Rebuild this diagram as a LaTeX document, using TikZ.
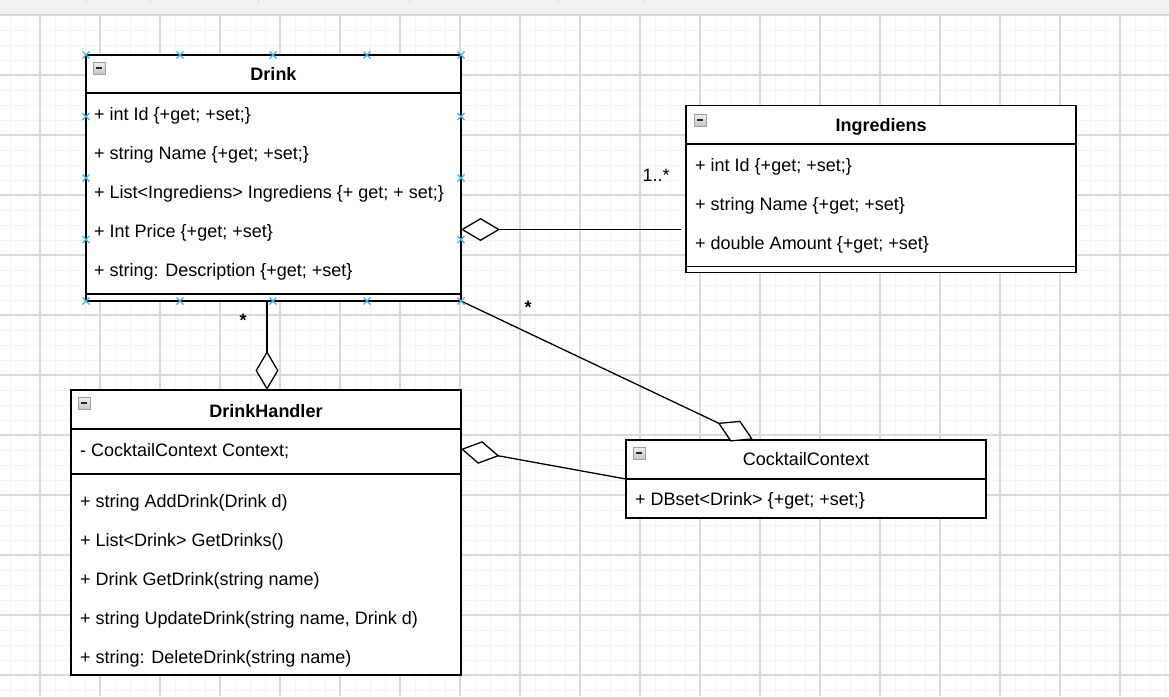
\documentclass[tikz,border=0pt]{standalone}
\usepackage{fontspec}
\setmainfont{Liberation Sans}
\usetikzlibrary{arrows.meta}
\definecolor{handle}{RGB}{58,180,240}
\definecolor{gmajor}{RGB}{218,218,218}
\definecolor{gminor}{RGB}{244,244,244}
\definecolor{topbar}{RGB}{241,242,244}
\newcommand\ufont{\fontsize{18}{20}\selectfont}
\tikzset{
  classbox/.style={draw=black, line width=1.3pt, fill=white, inner sep=0pt, rectangle},
  sepline/.style={draw=black, line width=1.3pt},
  row/.style={anchor=base west, inner sep=0pt, font=\ufont, text=black},
  ctitle/.style={anchor=base, inner sep=0pt, font=\ufont\bfseries, text=black},
  ntitle/.style={anchor=base, inner sep=0pt, font=\ufont, text=black},
  mult/.style={anchor=base, inner sep=0pt, font=\ufont, text=black},
  agg/.style={draw=black, line width=1.3pt, -{Diamond[length=39pt,width=23pt,fill=white]}},
  iconbox/.style={draw=gray!75, line width=0.8pt, top color=gray!12, bottom color=gray!45},
  iconbar/.style={draw=black!85, line width=1.6pt},
  hmark/.style={draw=handle, line width=1.3pt},
  minorline/.style={draw=gminor, line width=1pt},
  majorline/.style={draw=gmajor, line width=1.3pt},
}
\begin{document}
\begin{tikzpicture}[x=1pt,y=-1pt]
\useasboundingbox (0,0) rectangle (1169,696);
\fill[white] (0,0) rectangle (1169,696);
% grid
\foreach \x in {10,25,...,1165} \draw[minorline] (\x,14) -- (\x,696);
\foreach \y in {15,30,...,690} \draw[minorline] (0,\y) -- (1169,\y);
\foreach \x in {40,100,...,1160} \draw[majorline] (\x,14) -- (\x,696);
\foreach \y in {15,75,...,690} \draw[majorline] (0,\y) -- (1169,\y);
% top bar
\fill[topbar] (0,0) rectangle (1169,14);
\draw[draw=black!18, line width=1pt] (0,14) -- (1169,14);
\foreach \x in {86,150,258,409,558,643} \draw[draw=black!12, line width=0.8pt] (\x,0) -- (\x,4);

% ---------- Drink ----------
\node[classbox, minimum width=375pt, minimum height=246pt] (drink) at (273.5,178) {};
\draw[sepline] (86,93) -- (461,93);
\draw[sepline] (86,294) -- (461,294);
\node[ctitle] (drinkT) at (273.5,80.7) {Drink};
\node[row] (d1) at (94,120) {+ int Id \{+get; +set;\}};
\node[row] (d2) at (94,159) {+ string Name \{+get; +set;\}};
\node[row] (d3) at (94,198) {+ List<Ingrediens> Ingrediens \{+ get; + set;\}};
\node[row] (d4) at (94,237) {+ Int Price \{+get; +set\}};
\node[row] (d5) at (94,276) {+ string: Description \{+get; +set\}};

% ---------- Ingrediens ----------
\node[classbox, minimum width=390pt, minimum height=167pt] (ingr) at (881,189.2) {};
\draw[sepline] (686,144) -- (1076,144);
\draw[sepline] (686,266.5) -- (1076,266.5);
\node[ctitle] (ingrT) at (881,131.7) {Ingrediens};
\node[row] (i1) at (695,171.5) {+ int Id \{+get; +set;\}};
\node[row] (i2) at (695,210.5) {+ string Name \{+get; +set\}};
\node[row] (i3) at (695,249.5) {+ double Amount \{+get; +set\}};

% ---------- DrinkHandler ----------
\node[classbox, minimum width=390pt, minimum height=285pt] (dh) at (266,532.5) {};
\draw[sepline] (71,429) -- (461,429);
\draw[sepline] (71,474) -- (461,474);
\node[ctitle] (dhT) at (266,417.3) {DrinkHandler};
\node[row] (h0) at (80,456) {- CocktailContext Context;};
\node[row] (h1) at (80,507) {+ string AddDrink(Drink d)};
\node[row] (h2) at (80,546) {+ List<Drink> GetDrinks()};
\node[row] (h3) at (80,585) {+ Drink GetDrink(string name)};
\node[row] (h4) at (80,624) {+ string UpdateDrink(string name, Drink d)};
\node[row] (h5) at (80,663) {+ string: DeleteDrink(string name)};

% ---------- CocktailContext ----------
\node[classbox, minimum width=360pt, minimum height=78pt] (cc) at (806,479) {};
\draw[sepline] (626,479) -- (986,479);
\node[ntitle] (ccT) at (806,465) {CocktailContext};
\node[row] (c1) at (635,505) {+ DBset<Drink> \{+get; +set;\}};

% minus icons
\foreach \px/\py in {93/62, 694/114, 78/397, 633/447} {
  \draw[iconbox] (\px,\py) rectangle ++(12,12);
  \draw[iconbar] (\px+3,\py+6) -- (\px+9,\py+6);
}

% ---------- connectors ----------
\coordinate (ingrL) at (681,229.5);
\coordinate (drinkR) at (461,229.5);
\coordinate (drinkB) at (267,301);
\coordinate (dhTop) at (267,390);
\coordinate (drinkBR) at (461,301);
\coordinate (ccTop) at (753,439.5);
\coordinate (ccL) at (626,479);
\coordinate (dhR) at (461,449);
\draw[agg] (ingrL) -- (drinkR);
\draw[agg] (drinkB) -- (dhTop);
\draw[agg] (drinkBR) -- (ccTop);
\draw[agg] (ccL) -- (dhR);

\node[mult] (m1) at (656,181.5) {1..*};
\node[mult, font=\ufont\bfseries] (m2) at (243,326.5) {*};
\node[mult, font=\ufont\bfseries] (m3) at (528,313.5) {*};

% selection handles on Drink
\foreach \hx/\hy in {86/55,180/55,273/55,367/55,461/55,
                     86/116.5,86/178,86/239.5,461/116.5,461/178,461/239.5,
                     86/301,180/301,273/301,367/301,461/301} {
  \draw[hmark] (\hx-3.5,\hy-3.5) -- (\hx+3.5,\hy+3.5);
  \draw[hmark] (\hx-3.5,\hy+3.5) -- (\hx+3.5,\hy-3.5);
}
\end{tikzpicture}
\end{document}
